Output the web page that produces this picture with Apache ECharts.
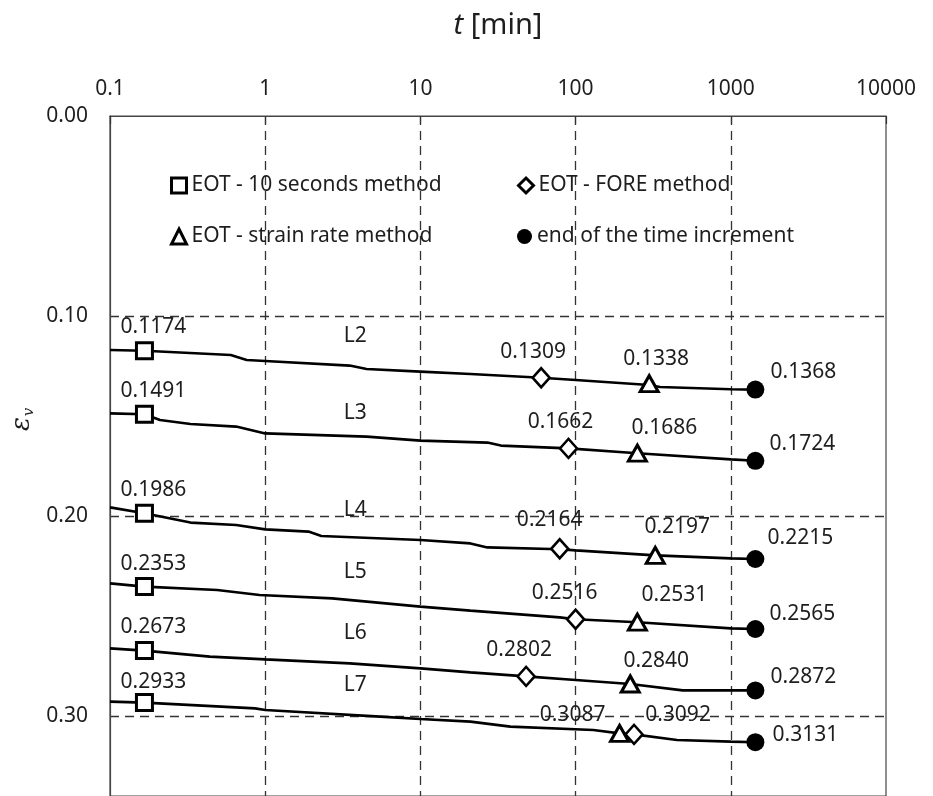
<!DOCTYPE html>
<html><head><meta charset="utf-8">
<script src="https://cdn.jsdelivr.net/npm/echarts@6/dist/echarts.min.js"></script>
<style>html,body{margin:0;padding:0;background:#fff}#c{width:933px;height:796px}</style>
</head><body><div id="c"></div>
<script>
// ---- data ----
const xTickLabels = ['0.1', '1', '10', '100', '1000', '10000'];
const yTickLabels = ['0.00', '0.10', '0.20', '0.30'];
const lineNames = ['L2', 'L3', 'L4', 'L5', 'L6', 'L7'];

const L2_t = [0.1, 0.1667, 0.6, 0.76, 1, 3.5, 4.5, 10, 21, 60, 100, 298, 350, 1000, 1440];
const L2_e = [0.117, 0.1174, 0.1195, 0.122, 0.1225, 0.1248, 0.1265, 0.1278, 0.129, 0.1309, 0.132, 0.1345, 0.1355, 0.1366, 0.1368];
const L3_t = [0.1, 0.1667, 0.21, 0.33, 0.65, 1, 4.5, 10, 27, 33, 90, 250, 1000, 1440];
const L3_e = [0.1487, 0.1491, 0.152, 0.154, 0.1553, 0.1587, 0.1603, 0.1623, 0.1633, 0.1648, 0.1662, 0.1686, 0.1717, 0.1724];
const L4_t = [0.1, 0.1667, 0.33, 0.65, 1, 1.9, 2.3, 10, 21, 27, 79, 100, 326, 1000, 1440];
const L4_e = [0.1957, 0.1986, 0.2033, 0.2045, 0.2067, 0.2078, 0.21, 0.212, 0.2137, 0.2157, 0.2166, 0.2172, 0.2197, 0.2212, 0.2215];
const L5_t = [0.1, 0.1667, 0.49, 0.92, 2.7, 10, 21, 79, 100, 250, 1000, 1440];
const L5_e = [0.2337, 0.2353, 0.237, 0.2395, 0.2412, 0.2453, 0.2473, 0.2507, 0.2516, 0.2531, 0.2562, 0.2565];
const L6_t = [0.1, 0.1667, 0.44, 1, 3.5, 10, 21, 48, 100, 225, 490, 1440];
const L6_e = [0.2662, 0.2673, 0.2703, 0.2717, 0.2737, 0.2762, 0.2782, 0.2802, 0.282, 0.284, 0.2872, 0.2872];
const L7_t = [0.1, 0.1667, 0.86, 1, 5.5, 10, 21, 38, 130, 192, 238, 450, 1000, 1440];
const L7_e = [0.2928, 0.2933, 0.2962, 0.297, 0.3003, 0.3015, 0.3028, 0.3053, 0.307, 0.3087, 0.3092, 0.312, 0.3128, 0.3131];

const tenSec_t = [0.1667, 0.1667, 0.1667, 0.1667, 0.1667, 0.1667];
const tenSec_e = [0.1174, 0.1491, 0.1986, 0.2353, 0.2673, 0.2933];
const fore_t = [60, 90, 79, 100, 48, 238];
const fore_e = [0.1309, 0.1662, 0.2164, 0.2516, 0.2802, 0.3092];
const rate_t = [298, 250, 326, 250, 225, 192];
const rate_e = [0.1338, 0.1686, 0.2197, 0.2531, 0.2840, 0.3087];
const end_t = [1440, 1440, 1440, 1440, 1440, 1440];
const end_e = [0.1368, 0.1724, 0.2215, 0.2565, 0.2872, 0.3131];

const lineLabel_t = [3.8, 3.8, 3.8, 3.8, 3.8, 3.8];
const lineLabel_e = [0.110, 0.1487, 0.197, 0.228, 0.2585, 0.2845];

// ---- label offsets (style) ----
const tenSecOff = [[9, -24], [9, -23], [9, -23], [9, -23], [9, -24], [9, -21]];
const foreOff = [[-8, -26], [-8, -26], [-10, -29], [-11, -26], [-7, -26], [44, -19]];
const rateOff = [[7, -25], [27, -25], [22, -28], [37, -27], [26, -23], [-47, -18]];
const endOff = [[48, -18], [47, -17], [45, -21], [47, -15], [48, -13], [50, -7]];

const FONT = 'Noto Sans';
const FS = 21;
const TXT = '#1e1e1e';
const curves = [[L2_t, L2_e], [L3_t, L3_e], [L4_t, L4_e], [L5_t, L5_e], [L6_t, L6_e], [L7_t, L7_e]];

function pts(ts, es, offs) {
  return ts.map((t, i) => {
    const o = { value: [t, es[i]] };
    if (offs) o.label = { offset: offs[i] };
    return o;
  });
}

const series = [];
curves.forEach((c, k) => {
  series.push({
    type: 'line', name: lineNames[k], data: pts(c[0], c[1]), showSymbol: false, symbol: 'none',
    lineStyle: { color: '#000', width: 2.6 }, z: 2, silent: true
  });
});
const markerLabel = {
  show: true, position: 'inside', fontFamily: FONT, fontSize: FS, color: TXT,
  formatter: p => p.value[1].toFixed(4)
};
series.push({
  type: 'scatter', name: 'EOT - 10 seconds method', symbol: 'rect', symbolSize: 16,
  itemStyle: { color: '#fff', borderColor: '#000', borderWidth: 3, opacity: 1 },
  data: pts(tenSec_t, tenSec_e, tenSecOff), label: markerLabel, z: 5
});
series.push({
  type: 'scatter', name: 'EOT - FORE method', symbol: 'diamond', symbolSize: [17, 19],
  itemStyle: { color: '#fff', borderColor: '#000', borderWidth: 2.6, opacity: 1 },
  data: pts(fore_t, fore_e, foreOff), label: markerLabel, z: 5
});
series.push({
  type: 'scatter', name: 'EOT - strain rate method', symbol: 'triangle', symbolSize: [18, 16],
  itemStyle: { color: '#fff', borderColor: '#000', borderWidth: 3, opacity: 1 },
  data: pts(rate_t, rate_e, rateOff), label: markerLabel, z: 5
});
series.push({
  type: 'scatter', name: 'end of the time increment', symbol: 'circle', symbolSize: 18,
  itemStyle: { color: '#000', borderColor: '#000', borderWidth: 0, opacity: 1 },
  data: pts(end_t, end_e, endOff), label: markerLabel, z: 5
});
series.push({
  type: 'scatter', name: 'lineLabels', symbolSize: 0,
  itemStyle: { color: '#000', opacity: 1 },
  data: pts(lineLabel_t, lineLabel_e),
  label: { show: true, position: 'inside', fontFamily: FONT, fontSize: FS, color: TXT,
    formatter: p => lineNames[p.dataIndex] }, z: 6, silent: true
});

function legendAt(name, left, top, fill) {
  return {
    data: [name], left: left, top: top, itemWidth: 15, itemHeight: 15, itemGap: 5,
    textStyle: { fontFamily: FONT, fontSize: FS, color: TXT },
    itemStyle: { color: fill, borderColor: '#000', borderWidth: fill === '#000' ? 0 : 3 },
    selectedMode: false
  };
}

const option = {
  animation: false,
  backgroundColor: '#fff',
  grid: { left: 110, right: 47, top: 116, bottom: 0, show: true, borderColor: '#444', borderWidth: 1.2, backgroundColor: 'transparent' },
  xAxis: {
    type: 'log', logBase: 10, min: 0.1, max: 10000, position: 'top',
    name: '{i|t} [min]', nameLocation: 'middle', nameGap: 76,
    nameTextStyle: { fontFamily: FONT, fontSize: 29, color: TXT,
      rich: { i: { fontStyle: 'italic', fontFamily: FONT, fontSize: 29, color: TXT } } },
    axisLine: { show: true, lineStyle: { color: '#444', width: 1.2 } },
    axisTick: { show: true, inside: true, length: 8, lineStyle: { color: '#333', width: 1.2 } },
    axisLabel: { fontFamily: FONT, fontSize: FS, color: TXT, margin: 16,
      formatter: v => { const s = String(+(+v).toPrecision(6)); return xTickLabels.includes(s) ? s : ''; } },
    splitLine: { show: true, showMinLine: false, showMaxLine: false,
      lineStyle: { type: [9, 6], color: '#333', width: 1.3 } },
    minorTick: { show: false }
  },
  yAxis: {
    type: 'value', inverse: true, min: 0, max: 0.34, interval: 0.1,
    axisLine: { show: true, lineStyle: { color: '#444', width: 1.2 } },
    axisTick: { show: false },
    axisLabel: { fontFamily: FONT, fontSize: FS, color: TXT, margin: 22, showMaxLabel: false,
      formatter: v => { const s = (+v).toFixed(2); return yTickLabels.includes(s) ? s : ''; } },
    splitLine: { show: true, showMinLine: false, showMaxLine: false,
      lineStyle: { type: [9, 6], color: '#333', width: 1.3 } }
  },
  legend: [
    legendAt('EOT - 10 seconds method', 165, 170, '#fff'),
    legendAt('EOT - FORE method', 512, 170, '#fff'),
    legendAt('EOT - strain rate method', 165, 221, '#fff'),
    legendAt('end of the time increment', 512, 221, '#000')
  ],
  graphic: [{
    type: 'group', x: 22, y: 424, rotation: Math.PI / 2,
    children: [
      { type: 'text', x: 0, y: 0,
        style: { text: 'ε', fontFamily: 'DejaVu Serif', fontStyle: 'italic', fontSize: 26, fill: TXT,
                 align: 'center', verticalAlign: 'middle' } },
      { type: 'text', x: 12, y: 7,
        style: { text: 'v', fontFamily: 'DejaVu Serif', fontStyle: 'italic', fontSize: 15, fill: TXT,
                 align: 'center', verticalAlign: 'middle' } }
    ]
  }],
  series: series
};
const chart = echarts.init(document.getElementById('c'), null, { renderer: 'canvas' });
chart.setOption(option);
</script></body></html>
